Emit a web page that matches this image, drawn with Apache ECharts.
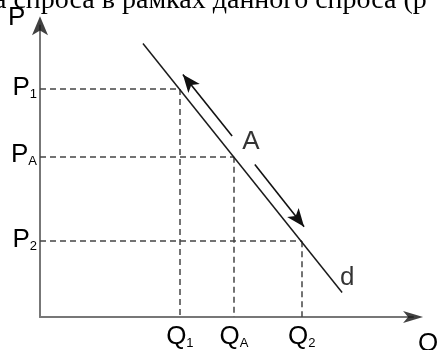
<!DOCTYPE html>
<html>
<head>
<meta charset="utf-8">
<script src="https://cdn.jsdelivr.net/npm/echarts@6/dist/echarts.min.js"></script>
<style>
  html, body { margin: 0; padding: 0; background: #fff; }
  #chart { width: 442px; height: 350px; }
</style>
</head>
<body>
<div id="chart"></div>
<script>
// Demand curve d with a price change along it (axes run 0..100 in both directions)
const quantityTicks = [37.5, 52.0, 70.2];     // Q1, QA, Q2
const quantitySubs  = ['1', 'A', '2'];
const priceTicks    = [78.2, 55.0, 26.0];     // P1, PA, P2
const priceSubs     = ['1', 'A', '2'];
const demandLine    = [[27.6, 93.8], [81.0, 8.4]];
const pointA        = [52.0, 55.0];
const moveUp        = [[51.5, 62.1], [38.3, 83.2]];
const moveDown      = [[57.6, 52.3], [70.8, 31.0]];
const axisTips      = [[0, 103.2], [102.7, 0]];   // arrowheads just past the axis ends
const headerText    = 'а спроса в рамках данного спроса (р';

const SANS = 'Liberation Sans, Arial, sans-serif';

// dashed guides from each point on d to both axes
const guides = [];
quantityTicks.forEach(function (q, i) {
  const p = priceTicks[i];
  guides.push({ coords: [[0, p], [q, p]] });
  guides.push({ coords: [[q, p], [q, 0]] });
});

const richSub = {
  m: { fontFamily: SANS, fontSize: 26, color: '#000', lineHeight: 26 },
  s: { fontFamily: SANS, fontSize: 13, color: '#000', verticalAlign: 'bottom', lineHeight: 14 }
};

const chart = echarts.init(document.getElementById('chart'), null, { renderer: 'canvas' });
chart.setOption({
  animation: false,
  backgroundColor: '#fff',
  title: {
    text: headerText,
    left: -6,
    top: -13,
    padding: 0,
    textStyle: { fontFamily: 'Liberation Serif, Times New Roman, serif', fontSize: 28, fontWeight: 'normal', color: '#000' }
  },
  grid: { left: 40, top: 25.5, right: 29, bottom: 28, containLabel: false },
  xAxis: {
    type: 'value', min: 0, max: 100,
    axisLine: { show: true, lineStyle: { color: '#777', width: 2 } },
    axisTick: { show: false },
    splitLine: { show: false },
    axisLabel: {
      customValues: quantityTicks,
      margin: 7,
      formatter: function (v) {
        const i = quantityTicks.indexOf(v);
        return '{m|Q}{s|' + quantitySubs[i] + '}';
      },
      rich: richSub
    }
  },
  yAxis: {
    type: 'value', min: 0, max: 100,
    axisLine: { show: true, lineStyle: { color: '#777', width: 2 } },
    axisTick: { show: false },
    splitLine: { show: false },
    axisLabel: {
      customValues: priceTicks,
      margin: 3,
      padding: [0, 0, 3, 0],
      formatter: function (v) {
        const i = priceTicks.indexOf(v);
        return '{m|P}{s|' + priceSubs[i] + '}';
      },
      rich: richSub
    }
  },
  graphic: [
    { type: 'text', left: 8, top: 5, style: { text: 'P', font: '26px ' + SANS, fill: '#000' } },
    { type: 'text', left: 418, top: 331, style: { text: 'Q', font: '26px ' + SANS, fill: '#000' } }
  ],
  series: [
    {
      name: 'guides', type: 'lines', coordinateSystem: 'cartesian2d',
      data: guides, symbol: 'none',
      lineStyle: { color: '#444', width: 1.5, type: [6, 4], opacity: 1 },
      silent: true
    },
    {
      name: 'demand', type: 'line', data: demandLine,
      symbol: 'none', lineStyle: { color: '#1a1a1a', width: 1.5 }
    },
    {
      name: 'movement', type: 'lines', coordinateSystem: 'cartesian2d',
      data: [{ coords: moveUp }, { coords: moveDown }],
      symbol: ['none', 'arrow'], symbolSize: [[1, 1], [11, 18]],
      lineStyle: { color: '#111', width: 1.6, opacity: 1 },
      itemStyle: { color: '#111' }
    },
    {
      name: 'axisHeads', type: 'scatter', clip: false,
      data: [
        { value: axisTips[0], symbolSize: [12, 19], symbolRotate: 0 },
        { value: axisTips[1], symbolSize: [9, 20], symbolRotate: -90 }
      ],
      symbol: 'arrow', itemStyle: { color: '#111' }, silent: true
    },
    {
      name: 'labels', type: 'scatter', clip: false, symbolSize: 0,
      data: [
        { value: pointA, label: { formatter: 'A', offset: [17, -15] } },
        { value: demandLine[1], label: { formatter: 'd', offset: [5, -15] } }
      ],
      label: { show: true, position: 'inside', fontFamily: SANS, fontSize: 26, color: '#000' }
    }
  ]
});
</script>
</body>
</html>
